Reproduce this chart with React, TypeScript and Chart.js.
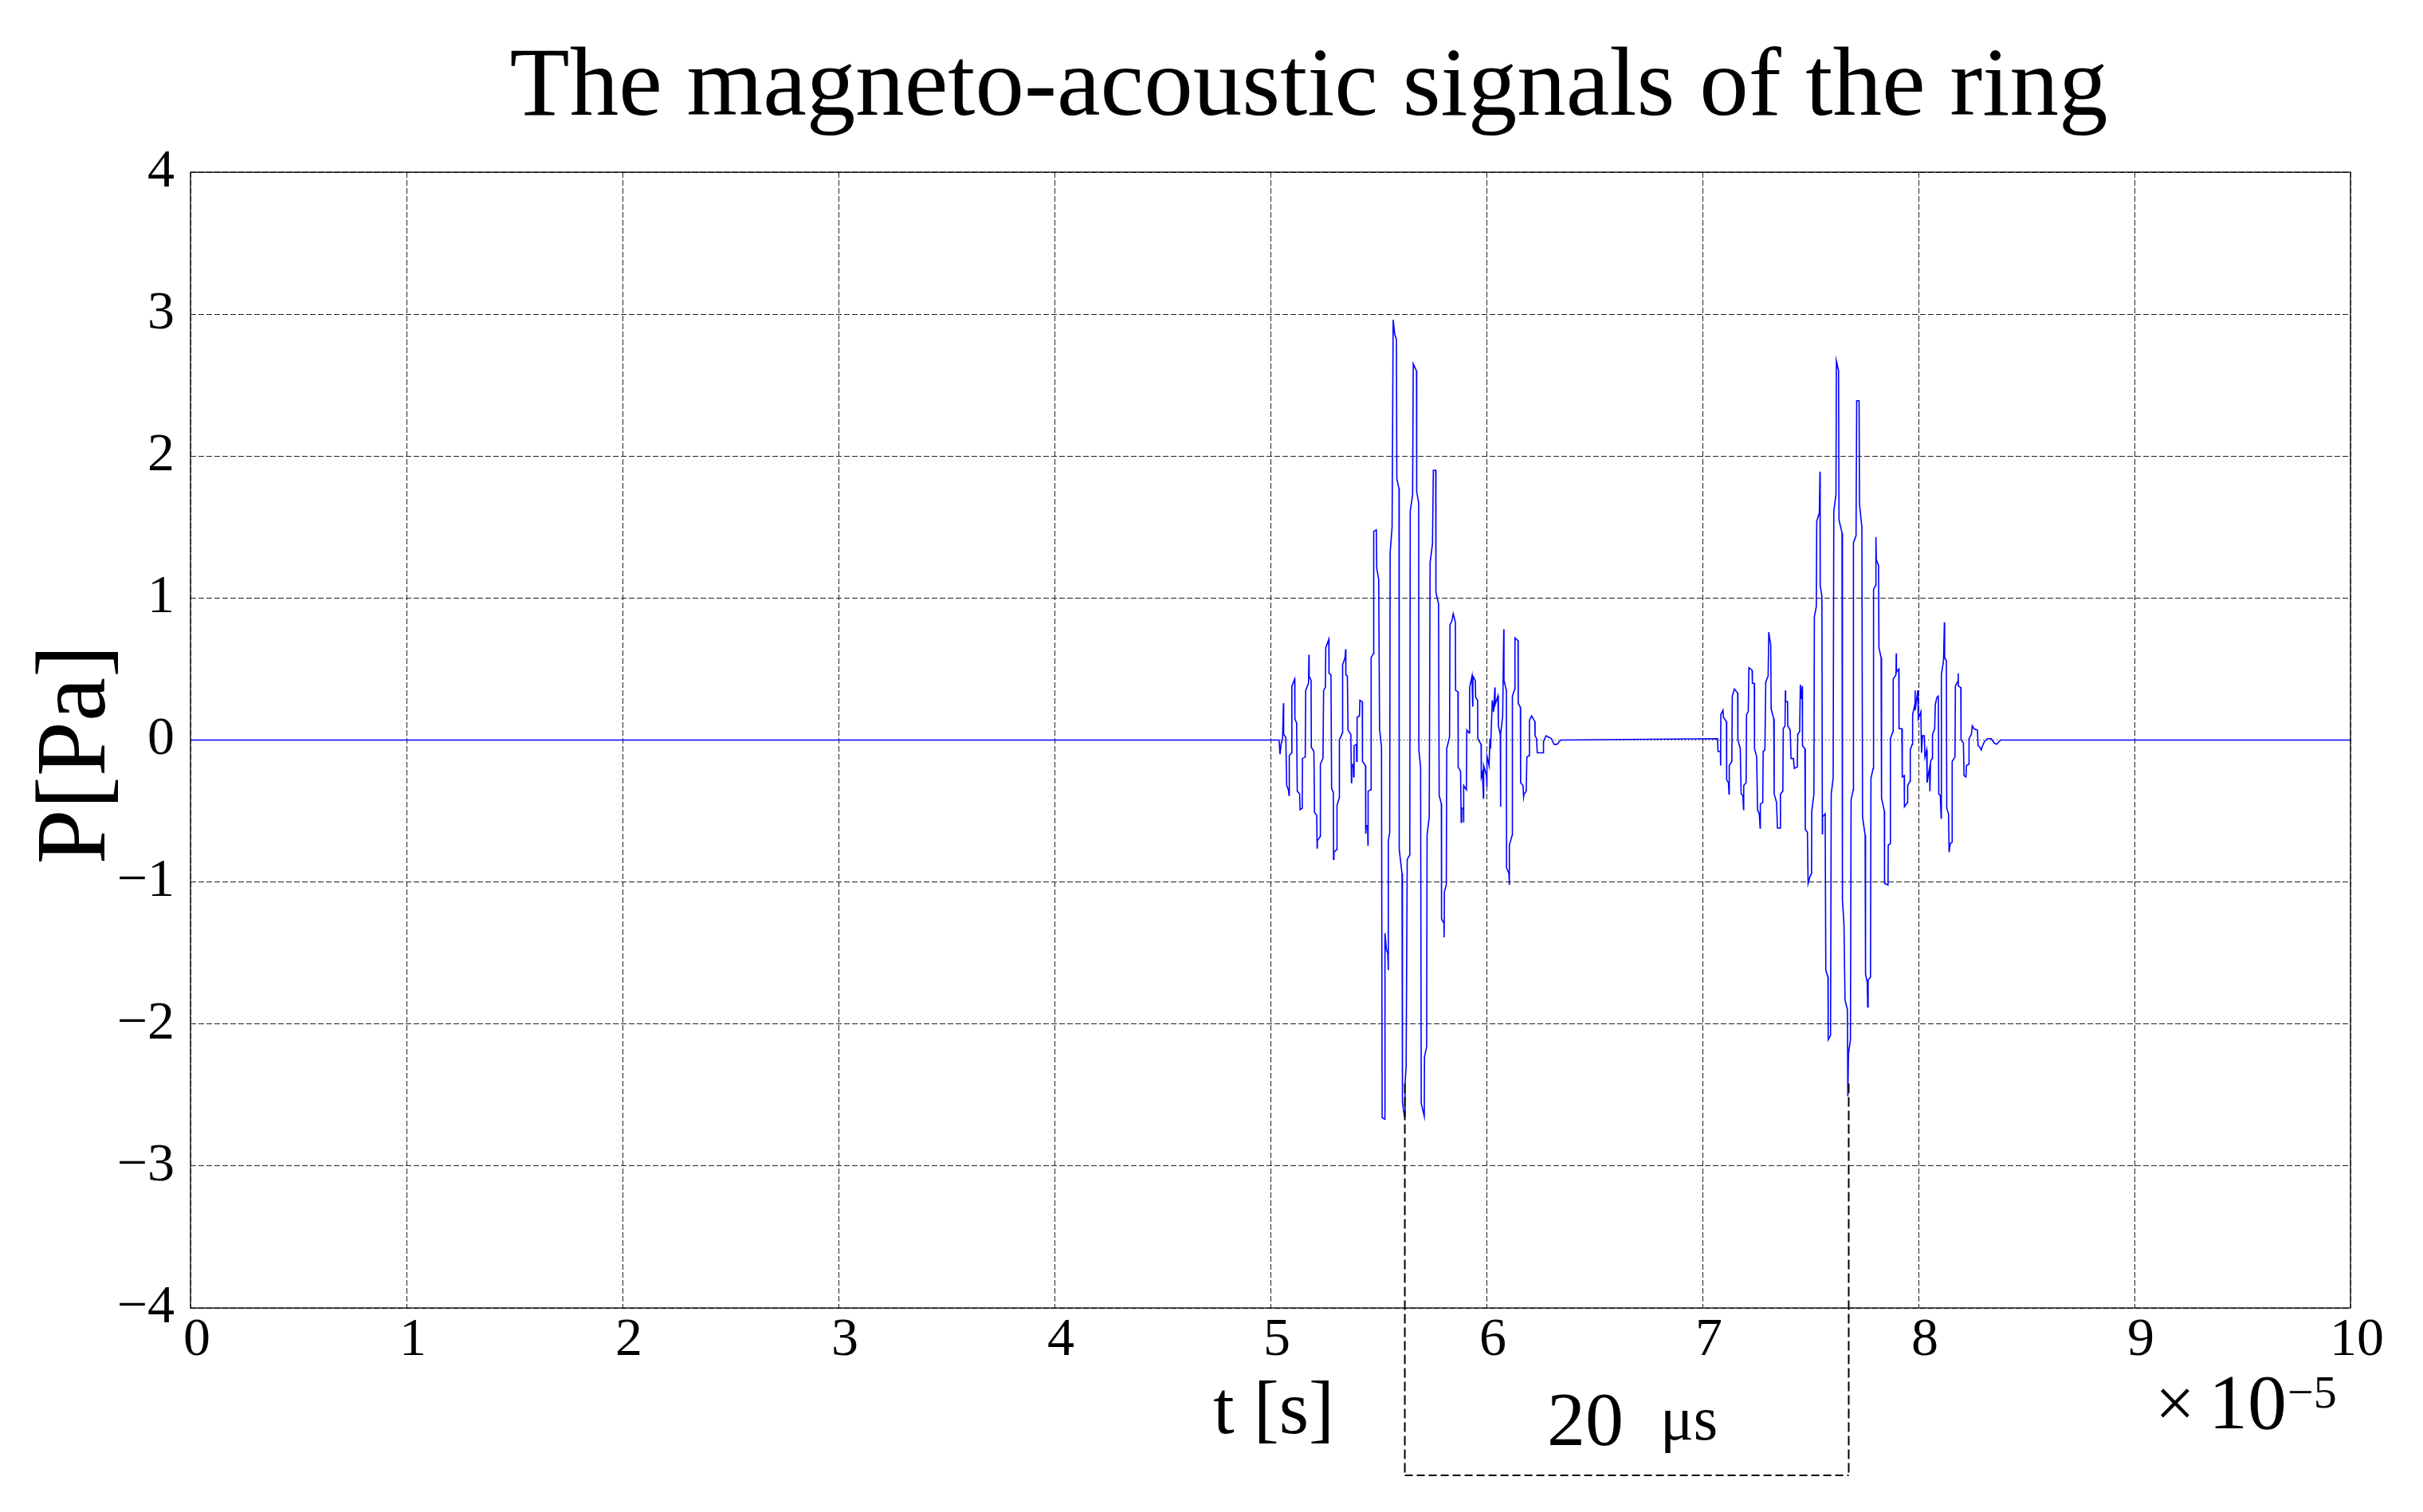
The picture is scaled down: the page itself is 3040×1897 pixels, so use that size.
import React, { useEffect, useRef } from "react";
import { Chart, registerables } from "chart.js";

Chart.register(...registerables);

// ---------- text ----------
const TITLE = "The magneto-acoustic signals of the ring";
const X_LABEL = "t [s]";
const Y_LABEL = "P[Pa]";
const X_MULTIPLIER = "×";
const X_BASE = "10";
const X_EXPONENT = "−5";

// ---------- axes ----------
const X_TICKS = [0, 1, 2, 3, 4, 5, 6, 7, 8, 9, 10];
const Y_TICKS = [-4, -3, -2, -1, 0, 1, 2, 3, 4];

// ---------- signal (time in 1e-5 s, pressure in Pa) ----------
const burst1Time = [
  5.040, 5.044, 5.049, 5.056, 5.060, 5.061, 5.071, 5.075, 5.083, 5.086, 5.087, 5.098, 5.099, 5.112, 5.113, 5.121,
  5.124, 5.135, 5.137, 5.147, 5.148, 5.161, 5.163, 5.176, 5.178, 5.179, 5.188, 5.189, 5.201, 5.204, 5.214, 5.216,
  5.217, 5.230, 5.231, 5.243, 5.246, 5.254, 5.256, 5.270, 5.271, 5.280, 5.283, 5.291, 5.292, 5.294, 5.307, 5.308,
  5.318, 5.319, 5.333, 5.334, 5.345, 5.348, 5.349, 5.356, 5.359, 5.372, 5.375, 5.376, 5.383, 5.385, 5.387, 5.398,
  5.399, 5.401, 5.412, 5.414, 5.425, 5.426, 5.440, 5.441, 5.444, 5.450, 5.451, 5.452, 5.465, 5.466, 5.477, 5.478,
  5.490, 5.492, 5.501, 5.505, 5.514, 5.517, 5.529, 5.530, 5.537, 5.543, 5.545, 5.546, 5.552, 5.554, 5.563, 5.568,
  5.575, 5.583, 5.585, 5.595, 5.596, 5.609, 5.611, 5.620, 5.623, 5.628, 5.633, 5.645, 5.647, 5.658, 5.661, 5.676,
  5.677, 5.686, 5.687, 5.695, 5.698, 5.712, 5.713, 5.723, 5.725, 5.735, 5.739, 5.750, 5.754, 5.765, 5.766, 5.778,
  5.781, 5.791, 5.792, 5.803, 5.804, 5.805, 5.814, 5.816, 5.829, 5.831, 5.840, 5.846, 5.856, 5.857, 5.868, 5.869,
  5.880, 5.883, 5.885, 5.893, 5.894, 5.895, 5.907, 5.909, 5.920, 5.922, 5.933, 5.936, 5.937, 5.948, 5.950, 5.959,
  5.960, 5.975, 5.976, 5.981, 5.986, 5.987, 6.000, 6.001, 6.003, 6.012, 6.016, 6.019, 6.027, 6.033, 6.039, 6.040,
  6.053, 6.055, 6.064, 6.065, 6.066, 6.075, 6.080, 6.081, 6.092, 6.093, 6.104, 6.105, 6.107, 6.119, 6.120, 6.131,
  6.132, 6.146, 6.147, 6.157, 6.158, 6.169, 6.172, 6.174, 6.184, 6.187, 6.196, 6.199, 6.209, 6.224, 6.225, 6.232,
  6.235, 6.262, 6.264, 6.276, 6.289, 6.301, 6.313, 6.326, 6.338, 6.344,
];
const burst1Value = [
  0.00, -0.10, -0.03, 0.01, 0.26, 0.04, 0.02, -0.32, -0.35, -0.39, -0.11, -0.09, 0.38, 0.43, 0.15, 0.12,
  -0.36, -0.38, -0.49, -0.48, -0.13, -0.12, 0.35, 0.40, 0.60, 0.45, 0.42, -0.05, -0.08, -0.51, -0.53, -0.76,
  -0.71, -0.68, -0.17, -0.13, 0.35, 0.37, 0.65, 0.71, 0.47, 0.46, -0.34, -0.37, -0.84, -0.79, -0.77, -0.46,
  -0.41, 0.00, 0.05, 0.53, 0.58, 0.64, 0.46, 0.45, 0.07, 0.04, -0.30, -0.19, -0.17, -0.26, -0.04, -0.03,
  -0.15, 0.16, 0.17, 0.28, 0.27, -0.15, -0.18, -0.66, -0.60, -0.61, -0.74, -0.36, -0.35, 0.58, 0.61, 1.47,
  1.48, 1.21, 1.13, 0.08, -0.05, -2.66, -2.67, -1.36, -1.48, -1.50, -1.62, -0.71, -0.65, 1.32, 1.50, 2.96,
  2.86, 2.82, 1.84, 1.77, -0.77, -0.94, -2.55, -2.65, -2.42, -2.30, -0.84, -0.81, 1.61, 1.73, 2.65, 2.60,
  1.75, 1.67, -0.07, -0.19, -2.56, -2.65, -2.23, -2.16, -0.67, -0.54, 1.25, 1.38, 1.90, 1.90, 1.04, 0.96,
  -0.39, -0.45, -1.26, -1.29, -1.39, -1.07, -1.02, -0.06, 0.02, 0.81, 0.84, 0.89, 0.83, 0.35, 0.34, -0.19,
  -0.22, -0.58, -0.48, -0.48, -0.58, -0.32, -0.35, 0.07, 0.05, 0.37, 0.45, 0.24, 0.45, 0.42, 0.30, 0.28,
  0.01, -0.03, -0.26, -0.23, -0.41, -0.18, -0.25, -0.33, -0.11, -0.18, 0.01, -0.06, 0.28, 0.20, 0.37, 0.25,
  0.31, 0.10, 0.04, -0.47, 0.04, 0.17, 0.78, 0.42, 0.35, -0.90, -0.94, -1.02, -0.74, -0.67, 0.31, 0.36,
  0.72, 0.70, 0.26, 0.23, -0.30, -0.32, -0.40, -0.38, -0.36, -0.12, -0.11, 0.14, 0.17, 0.13, 0.03, 0.01,
  -0.09, -0.09, -0.01, 0.03, 0.02, 0.01, -0.03, -0.03, -0.01, 0.00,
];

const burst2Time = [
  7.070, 7.072, 7.083, 7.084, 7.085, 7.095, 7.097, 7.111, 7.112, 7.120, 7.123, 7.124, 7.136, 7.138, 7.148, 7.163,
  7.164, 7.175, 7.179, 7.187, 7.190, 7.191, 7.202, 7.204, 7.212, 7.215, 7.230, 7.231, 7.240, 7.241, 7.251, 7.255,
  7.263, 7.267, 7.268, 7.279, 7.281, 7.289, 7.293, 7.304, 7.307, 7.316, 7.318, 7.330, 7.332, 7.343, 7.347, 7.359,
  7.361, 7.372, 7.374, 7.382, 7.384, 7.385, 7.394, 7.395, 7.406, 7.410, 7.421, 7.425, 7.439, 7.441, 7.450, 7.453,
  7.458, 7.462, 7.463, 7.474, 7.476, 7.486, 7.489, 7.498, 7.505, 7.506, 7.516, 7.518, 7.527, 7.529, 7.541, 7.544,
  7.545, 7.553, 7.555, 7.556, 7.568, 7.571, 7.581, 7.582, 7.593, 7.596, 7.605, 7.608, 7.618, 7.620, 7.630, 7.632,
  7.646, 7.648, 7.655, 7.660, 7.671, 7.673, 7.676, 7.685, 7.688, 7.698, 7.699, 7.711, 7.714, 7.725, 7.727, 7.738,
  7.741, 7.753, 7.755, 7.763, 7.765, 7.767, 7.778, 7.780, 7.790, 7.792, 7.802, 7.803, 7.805, 7.815, 7.817, 7.827,
  7.829, 7.842, 7.843, 7.859, 7.860, 7.869, 7.870, 7.882, 7.883, 7.896, 7.897, 7.898, 7.909, 7.910, 7.923, 7.925,
  7.934, 7.935, 7.949, 7.950, 7.961, 7.962, 7.971, 7.973, 7.983, 7.984, 7.985, 7.997, 7.999, 8.011, 8.014, 8.019,
  8.027, 8.030, 8.038, 8.040, 8.046, 8.051, 8.053, 8.056, 8.063, 8.065, 8.075, 8.078, 8.085, 8.092, 8.094, 8.101,
  8.105, 8.106, 8.116, 8.120, 8.121, 8.129, 8.131, 8.139, 8.142, 8.147, 8.155, 8.156, 8.169, 8.171, 8.181, 8.184,
  8.185, 8.196, 8.197, 8.208, 8.211, 8.220, 8.222, 8.233, 8.234, 8.245, 8.249, 8.257, 8.273, 8.276, 8.284, 8.291,
  8.294, 8.306, 8.319, 8.337, 8.350, 8.362, 8.374, 8.380,
];
const burst2Value = [
  0.01, -0.08, -0.08, -0.18, 0.18, 0.21, 0.16, 0.13, -0.28, -0.30, -0.38, -0.18, -0.15, 0.31, 0.36, 0.33,
  0.00, -0.06, -0.38, -0.39, -0.49, -0.32, -0.30, 0.18, 0.20, 0.51, 0.49, 0.40, 0.40, -0.06, -0.12, -0.49,
  -0.52, -0.62, -0.45, -0.44, -0.08, -0.07, 0.41, 0.45, 0.76, 0.67, 0.22, 0.15, -0.38, -0.44, -0.62, -0.62,
  -0.38, -0.36, 0.08, 0.10, 0.35, 0.27, 0.27, 0.10, 0.07, -0.13, -0.13, -0.20, -0.19, 0.04, 0.06, 0.39,
  0.29, 0.38, -0.04, -0.06, -0.63, -0.65, -1.01, -0.96, -0.94, -0.50, -0.38, 0.87, 0.94, 1.54, 1.60, 1.89,
  1.09, 1.01, -0.66, -0.54, -0.52, -1.62, -1.67, -2.11, -2.08, -0.38, -0.27, 1.61, 1.73, 2.67, 2.60, 1.55,
  1.46, -1.13, -1.29, -1.83, -1.90, -2.51, -2.21, -2.11, -0.42, -0.35, 1.39, 1.44, 2.39, 2.39, 1.66, 1.50,
  -0.54, -0.67, -1.65, -1.71, -1.88, -1.69, -1.67, -0.27, -0.20, 1.06, 1.09, 1.43, 1.27, 1.23, 0.65, 0.58,
  -0.41, -0.50, -1.01, -1.02, -0.74, -0.73, 0.01, 0.06, 0.43, 0.46, 0.61, 0.48, 0.50, 0.08, 0.08, -0.26,
  -0.25, -0.47, -0.44, -0.32, -0.29, -0.07, -0.03, 0.18, 0.25, 0.35, 0.21, 0.35, 0.15, 0.20, -0.09, 0.03,
  0.03, -0.12, -0.07, -0.30, -0.24, -0.20, -0.36, -0.15, -0.13, 0.04, 0.08, 0.25, 0.30, 0.31, -0.38, -0.39,
  -0.55, 0.46, 0.56, 0.83, 0.58, 0.56, -0.48, -0.52, -0.79, -0.73, -0.72, -0.15, -0.12, 0.38, 0.41, 0.47,
  0.38, 0.37, 0.00, -0.02, -0.25, -0.26, -0.18, -0.17, 0.01, 0.04, 0.10, 0.08, 0.07, -0.04, -0.05, -0.07,
  -0.05, -0.01, 0.01, 0.01, -0.02, -0.03, -0.01, 0.00,
];

// record limits (quiet signal at 0 Pa outside the bursts)
const recordStart = 0;
const recordEnd = 10;

// ---------- 20 µs annotation ----------
const markerTimes = [5.622, 7.677];
const markerTop = -2.42;
const markerValue = "20";
const markerUnit = "μs";

const FONT = "'Liberation Serif', 'Times New Roman', serif";

function buildPoints() {
  const pts: { x: number; y: number }[] = [{ x: recordStart, y: 0 }];
  burst1Time.forEach((t, i) => pts.push({ x: t, y: burst1Value[i] }));
  burst2Time.forEach((t, i) => pts.push({ x: t, y: burst2Value[i] }));
  pts.push({ x: recordEnd, y: 0 });
  return pts;
}

const fmtTick = (v: number) => (v < 0 ? "\u2212" + Math.abs(v) : String(v));

const overlayPlugin = {
  id: "overlay",
  afterDraw(chart: any) {
    const { ctx, chartArea: a, scales } = chart;
    const xs = scales.x;
    const ys = scales.y;
    ctx.save();

    // axes box
    ctx.setLineDash([]);
    ctx.strokeStyle = "#000";
    ctx.lineWidth = 1.3;
    ctx.strokeRect(a.left, a.top, a.right - a.left, a.bottom - a.top);

    // 20 µs markers
    const px = markerTimes.map((t) => xs.getPixelForValue(t));
    const top = ys.getPixelForValue(markerTop);
    const bottom = a.bottom + 210;
    ctx.lineWidth = 2;
    ctx.setLineDash([12, 5]);
    px.forEach((x) => {
      ctx.beginPath();
      ctx.moveTo(x, top);
      ctx.lineTo(x, bottom);
      ctx.stroke();
    });
    ctx.setLineDash([10, 5]);
    ctx.beginPath();
    ctx.moveTo(px[0], bottom);
    ctx.lineTo(px[1], bottom);
    ctx.stroke();
    ctx.setLineDash([]);

    ctx.fillStyle = "#000";
    ctx.textBaseline = "alphabetic";

    // marker text
    const mid = (px[0] + px[1]) / 2;
    ctx.textAlign = "left";
    ctx.font = `96px ${FONT}`;
    ctx.fillText(markerValue, mid - 100, a.bottom + 172);
    ctx.font = `78px ${FONT}`;
    ctx.fillText(markerUnit, mid + 42, a.bottom + 165);

    // title
    ctx.textAlign = "center";
    ctx.font = `123px ${FONT}`;
    ctx.fillText(TITLE, (a.left + a.right) / 2 + 48, 144);

    // x label
    ctx.font = `96px ${FONT}`;
    ctx.fillText(X_LABEL, (a.left + a.right) / 2 + 4, a.bottom + 157);

    // exponent
    ctx.textAlign = "left";
    ctx.font = `88px ${FONT}`;
    ctx.fillText(X_MULTIPLIER, a.right - 245, a.bottom + 149);
    ctx.font = `98px ${FONT}`;
    ctx.fillText(X_BASE, a.right - 178, a.bottom + 151);
    ctx.font = `58px ${FONT}`;
    ctx.fillText(X_EXPONENT, a.right - 79, a.bottom + 125);

    // y label
    ctx.save();
    ctx.translate(131, (a.top + a.bottom) / 2 + 18);
    ctx.rotate(-Math.PI / 2);
    ctx.textAlign = "center";
    ctx.font = `124px ${FONT}`;
    ctx.fillText(Y_LABEL, 0, 0);
    ctx.restore();

    ctx.restore();
  },
};

export default function App() {
  const canvasRef = useRef<HTMLCanvasElement | null>(null);

  useEffect(() => {
    const canvas = canvasRef.current;
    if (!canvas) return;
    const chart = new Chart(canvas, {
      type: "line",
      data: {
        datasets: [
          {
            label: "P",
            data: buildPoints(),
            borderColor: "#0000ff",
            borderWidth: 1.6,
            pointRadius: 0,
            tension: 0,
            fill: false,
          },
        ],
      },
      options: {
        animation: false,
        responsive: false,
        devicePixelRatio: 1,
        events: [],
        layout: { padding: { top: 216, right: 91, bottom: 0, left: 0 } },
        plugins: { legend: { display: false }, title: { display: false }, tooltip: { enabled: false } },
        scales: {
          x: {
            type: "linear",
            min: 0,
            max: 10,
            afterBuildTicks: (s: any) => {
              s.ticks = X_TICKS.map((v) => ({ value: v }));
            },
            afterFit: (s: any) => {
              s.height = 256;
            },
            ticks: {
              font: { family: FONT, size: 68 },
              color: "#000",
              padding: 0,
              labelOffset: 8,
              maxRotation: 0,
              autoSkip: false,
              callback: (v: any) => fmtTick(Number(v)),
            },
            grid: { color: "#222", lineWidth: 1, drawTicks: false },
            border: { display: false, dash: [7, 3] },
          },
          y: {
            type: "linear",
            min: -4,
            max: 4,
            afterBuildTicks: (s: any) => {
              s.ticks = Y_TICKS.map((v) => ({ value: v }));
            },
            afterFit: (s: any) => {
              s.width = 239;
            },
            ticks: {
              font: { family: FONT, size: 68 },
              color: "#000",
              padding: 20,
              autoSkip: false,
              callback: (v: any) => fmtTick(Number(v)),
            },
            grid: { color: "#222", lineWidth: 1, drawTicks: false },
            border: {
              display: false,
              dash: (c: any) => (c && c.tick && c.tick.value === 0 ? [1.3, 3] : [7, 3]),
            },
          },
        },
      },
      plugins: [overlayPlugin],
    });
    return () => chart.destroy();
  }, []);

  return (
    <div style={{ position: "absolute", left: 0, top: 0, width: 3040, height: 1897, background: "#fff" }}>
      <canvas ref={canvasRef} width={3040} height={1897} style={{ display: "block", width: 3040, height: 1897 }} />
    </div>
  );
}
